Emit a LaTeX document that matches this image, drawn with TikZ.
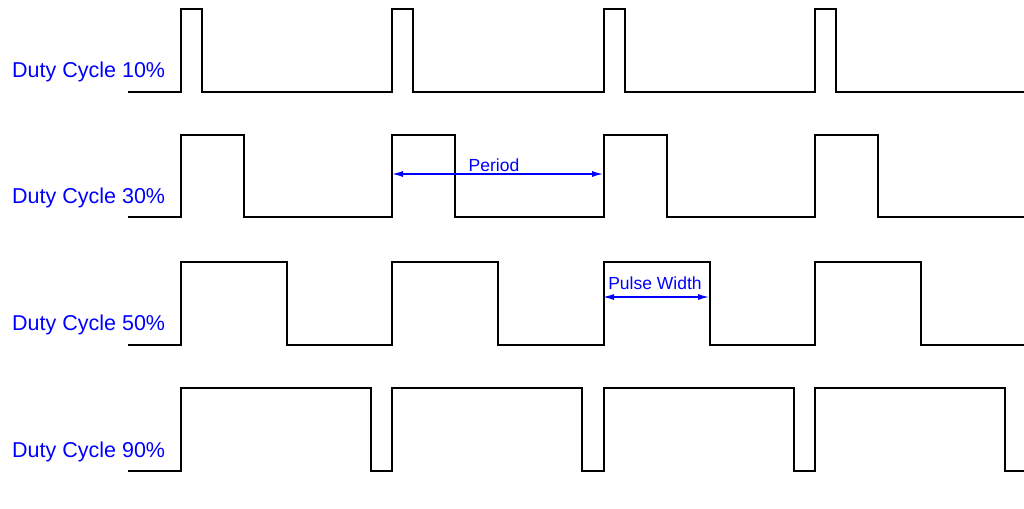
\documentclass[tikz,border=0pt]{standalone}
\usepackage{fontspec}
\setmainfont{Liberation Sans}
\usetikzlibrary{arrows.meta}

\tikzset{
    wave/.style={line width=2pt, black},
    dimline/.style={blue, line width=1.3pt, {Latex[length=11pt,width=6pt]}-{Latex[length=11pt,width=6pt]}},
    rowlabel/.style={anchor=west, inner sep=0pt, text=blue, font=\fontsize{21.5}{24}\selectfont},
    dimlabel/.style={inner sep=0pt, text=blue, font=\fontsize{17.5}{20}\selectfont}
}

\begin{document}
\begin{tikzpicture}[x=1pt, y=-1pt]
            \useasboundingbox[fill=white] (0,0) rectangle (1024,508);

            % one row per duty cycle: low level, high level, pulse width, label
            \foreach \lo/\hi/\w/\pc/\ly in {92/9/21/10/72, 217/135/63/30/198, 345/262/106/50/325, 471/388/190/90/452} {
                    \draw[wave] (128,\lo)
                        \foreach \k in {0,...,3} {
                            -- ({181+211.3*\k},\lo) -- ({181+211.3*\k},\hi)
                            -- ({181+211.3*\k+\w},\hi) -- ({181+211.3*\k+\w},\lo)
                        } -- (1024,\lo);
                    \node[rowlabel] (lbl\pc) at (12,\ly) {Duty Cycle \pc\%};
                }

            \coordinate (perA) at (392,174);
            \coordinate (perB) at (603,174);
            \draw[dimline] (perA) -- (perB);
            \node[dimlabel] (period) at (494,165) {Period};

            \coordinate (pwA) at (603,297);
            \coordinate (pwB) at (709,297);
            \draw[dimline] (pwA) -- (pwB);
            \node[dimlabel] (pulsewidth) at (655,283) {Pulse Width};
        \end{tikzpicture}
\end{document}
